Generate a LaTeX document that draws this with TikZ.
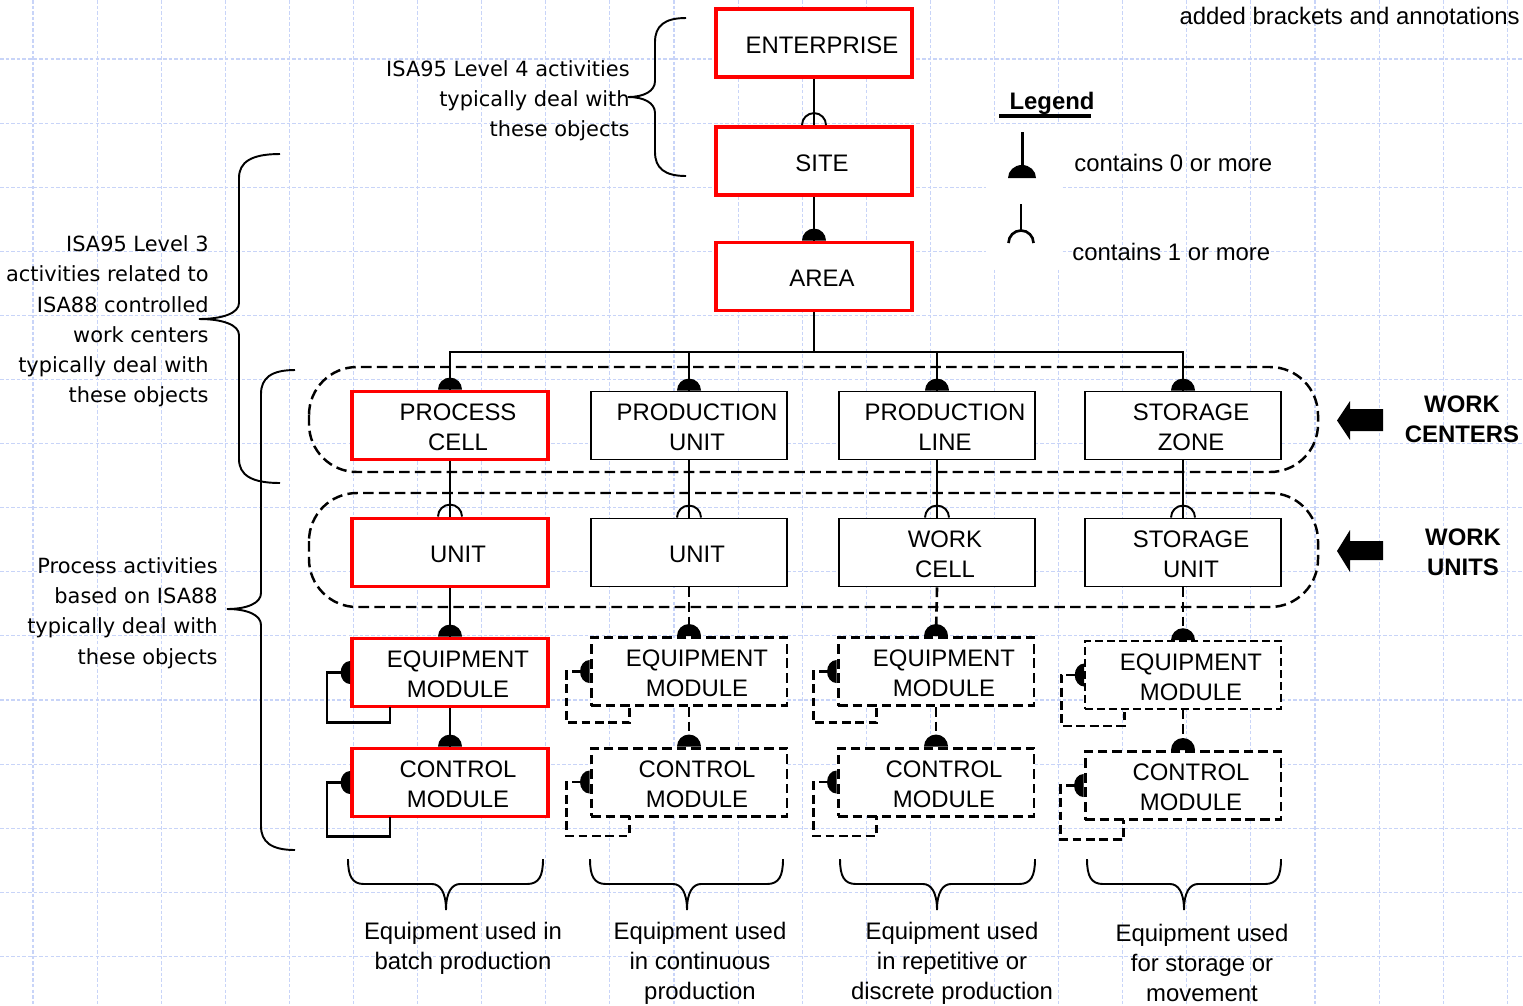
\documentclass[tikz,border=0pt]{standalone}
\usepackage{fontspec}
\setmainfont{Liberation Sans}
\newfontfamily\annotfont{DejaVu Sans}
\definecolor{gridblue}{RGB}{200,212,248}

% "zero or more" marker: filled half disc sitting on a box edge
\newcommand\ManyMark[1]{\fill[shift={(#1)}] (-12,0) arc[start angle=180,end angle=360,radius=12] -- cycle;}
% "one or more" marker: open half circle
\newcommand\OneMark[1]{\draw[link,shift={(#1)}] (-12,0) arc[start angle=180,end angle=360,radius=12];}
% filled half disc on the left side of a box (recursive containment)
\newcommand\SideMark[1]{\fill[shift={(#1)}] (0,11.5) arc[start angle=90,end angle=270,x radius=9.5,y radius=11.5] -- cycle;}
% recursive loop from the left side back to the bottom of the same box
\newcommand\SelfLoop[3]{\draw[#1,shift={(#2.west)}] (-9,0) -| (-23,#3) -| (40,34);}
% curly bracket opening to the right, tip pointing left
\newcommand\LeftBrace[6]{%
  \draw[curly] (#1,#4) .. controls ({#2+0.3*(#1-#2)},#4) and (#2,{#4+8}) .. (#2,{#4+24})
    -- (#2,{#5-16}) .. controls (#2,{#5-6}) and ({#2-0.4*(#2-#3)},#5) .. (#3,#5)
    .. controls ({#2-0.4*(#2-#3)},#5) and (#2,{#5+6}) .. (#2,{#5+16})
    -- (#2,{#6-24}) .. controls (#2,{#6-8}) and ({#2+0.3*(#1-#2)},#6) .. (#1,#6);}
% curly bracket opening upwards, tip pointing down
\newcommand\DownBrace[3]{%
  \draw[curly] (#1,859) .. controls (#1,876) and ({#1+4},884) .. ({#1+16},884)
    -- ({#2-14},884) .. controls ({#2-6},884) and (#2,892) .. (#2,910)
    .. controls (#2,892) and ({#2+6},884) .. ({#2+14},884)
    -- ({#3-16},884) .. controls ({#3-4},884) and (#3,876) .. (#3,859);}

\begin{document}
\begin{tikzpicture}[x=0.02cm,y=-0.02cm,
  every node/.style={font=\fontsize{13.6}{17}\selectfont, inner sep=0pt},
  box/.style={rectangle, minimum width=3.92cm, minimum height=1.36cm, fill=white},
  redbox/.style={box, draw=red, line width=2.2pt},
  plainbox/.style={box, draw=black, line width=1.1pt},
  dashbox/.style={box, draw=black, line width=1.7pt, dash pattern=on 5.5pt off 2.8pt},
  thindashbox/.style={box, draw=black, line width=0.9pt, dash pattern=on 4.5pt off 2.3pt},
  boxtext/.style={align=center, xshift=0.16cm, yshift=-0.04cm},
  link/.style={line width=1.1pt},
  dlink/.style={line width=1.5pt, dash pattern=on 5.5pt off 2.8pt},
  loopline/.style={line width=1.4pt},
  dloop/.style={line width=1.6pt, dash pattern=on 5pt off 2.6pt},
  group/.style={line width=1.4pt, dash pattern=on 6pt off 3pt, rounded corners=0.96cm},
  curly/.style={line width=1.1pt},
  annot/.style={font=\annotfont\fontsize{11.9}{17.2}\selectfont, align=right},
  caption/.style={align=center},
  boldtext/.style={font=\fontsize{13.6}{17}\selectfont\bfseries, align=center},
  gridline/.style={draw=gridblue, line width=0.6pt, dash pattern=on 2pt off 1.2pt}]

\useasboundingbox (0,0) rectangle (1523,1005);
\fill[white] (0,0) rectangle (1523,1005);

% background grid
\foreach \k in {0,...,23} \draw[gridline] ({33+64.1*\k},0) -- ({33+64.1*\k},1005);
\foreach \k in {0,...,15} \draw[gridline] (0,{-5.1+64.1*\k}) -- (1523,{-5.1+64.1*\k});

% legend area
\fill[white] (986,124) rectangle (1062,268);
\node[boldtext] (legend) at (1052,103) {Legend};
\draw[line width=2.2pt] (999,116) -- (1091,116);
\draw[line width=1.7pt] (1022,132) -- (1022,178);
\fill (1008,178) arc[start angle=180,end angle=360,x radius=14,y radius=13] -- cycle;
\draw[line width=1.5pt] (1021,204) -- (1021,231);
\draw[line width=1.5pt] (1008.5,243) arc[start angle=180,end angle=360,radius=12.5];
\node[anchor=west] (zeromore) at (1074,163) {contains 0 or more};
\node[anchor=west] (onemore) at (1072,252) {contains 1 or more};

\node[anchor=east] (note) at (1520,16) {added brackets and annotations};

% dashed groupings
\draw[group] (309,367) rectangle (1318,472);
\draw[group] (309,493) rectangle (1318,607);

% enterprise / site / area
\node[redbox, label={[boxtext]center:ENTERPRISE}] (ent) at (814,43) {};
\node[redbox, label={[boxtext]center:SITE}] (site) at (814,161) {};
\node[redbox, label={[boxtext]center:AREA}] (area) at (814,276.5) {};

% work centers
\node[redbox, label={[boxtext]center:PROCESS\\CELL}] (wc1) at (450,425.5) {};
\node[plainbox, label={[boxtext]center:PRODUCTION\\UNIT}] (wc2) at (689,425.5) {};
\node[plainbox, label={[boxtext]center:PRODUCTION\\LINE}] (wc3) at (937,425.5) {};
\node[plainbox, label={[boxtext]center:STORAGE\\ZONE}] (wc4) at (1183,425.5) {};

% work units
\node[redbox, label={[boxtext]center:UNIT}] (u1) at (450,552.5) {};
\node[plainbox, label={[boxtext]center:UNIT}] (u2) at (689,552.5) {};
\node[plainbox, label={[boxtext]center:WORK\\CELL}] (u3) at (937,552.5) {};
\node[plainbox, label={[boxtext]center:STORAGE\\UNIT}] (u4) at (1183,552.5) {};

% equipment modules
\node[redbox, label={[boxtext]center:EQUIPMENT\\MODULE}] (em1) at (450,672.5) {};
\node[dashbox, label={[boxtext]center:EQUIPMENT\\MODULE}] (em2) at (689,671.5) {};
\node[dashbox, label={[boxtext]center:EQUIPMENT\\MODULE}] (em3) at (936,671.5) {};
\node[thindashbox, label={[boxtext]center:EQUIPMENT\\MODULE}] (em4) at (1183,675) {};

% control modules
\node[redbox, label={[boxtext]center:CONTROL\\MODULE}] (cm1) at (450,782.5) {};
\node[dashbox, label={[boxtext]center:CONTROL\\MODULE}] (cm2) at (689,782) {};
\node[dashbox, label={[boxtext]center:CONTROL\\MODULE}] (cm3) at (936,782) {};
\node[dashbox, label={[boxtext]center:CONTROL\\MODULE}] (cm4) at (1183,785.5) {};

% containment links
\draw[link] (ent.south) -- (site.north);
\OneMark{site.north}
\draw[link] (site.south) -- (area.north);
\ManyMark{area.north}

\coordinate (bus) at (814,352);
\foreach \c in {1,2,3,4} {
  \draw[link] (area.south) -- (area.south |- bus) -| (wc\c.north);
  \ManyMark{wc\c.north}
  \draw[link] (wc\c.south) -- (u\c.north);
  \OneMark{u\c.north}
}

\draw[link] (u1.south) -- (em1.north);
\draw[link] (em1.south) -- (cm1.north);
\foreach \c in {2,3,4} {
  \draw[dlink] (u\c.south) -- (em\c.north);
  \draw[dlink] (em\c.south) -- (cm\c.north);
}
\foreach \c in {1,2,3,4} {
  \ManyMark{em\c.north}
  \ManyMark{cm\c.north}
}

% recursive containment loops
\SelfLoop{loopline}{em1}{50}
\SelfLoop{loopline}{cm1}{54}
\foreach \c in {2,3,4} {
  \SelfLoop{dloop}{em\c}{51}
  \SelfLoop{dloop}{cm\c}{54}
}
\foreach \c in {1,2,3,4} {
  \SideMark{em\c.west}
  \SideMark{cm\c.west}
}

% work center / work unit pointers
\fill (1337,420.5) -- (1350,401) -- (1350,409) -- (1383,409) -- (1383,431) -- (1350,431) -- (1350,440) -- cycle;
\fill (1337,551) -- (1350,530) -- (1350,541) -- (1383,541) -- (1383,560) -- (1350,560) -- (1350,572) -- cycle;
\node[boldtext] (wclabel) at (1462,419) {WORK\\CENTERS};
\node[boldtext] (wulabel) at (1463,552) {WORK\\UNITS};

% left annotations with brackets
\LeftBrace{686}{655}{628}{18}{97}{176}
\LeftBrace{280}{239}{199}{154}{319}{483}
\LeftBrace{295}{261}{227}{370}{609}{850}
\node[annot, anchor=east] (lvl4) at (630,100.5) {ISA95 Level 4 activities\\typically deal with\\these objects};
\node[annot, anchor=east] (lvl3) at (209,321.5) {ISA95 Level 3\\activities related to\\ISA88 controlled\\work centers\\typically deal with\\these objects};
\node[annot, anchor=east] (proc) at (218,613) {Process activities\\based on ISA88\\typically deal with\\these objects};

% bottom brackets with captions
\DownBrace{348}{446}{543}
\DownBrace{590}{687}{783}
\DownBrace{840}{937}{1035}
\DownBrace{1087}{1184}{1281}
\node[caption] (cap1) at (463,948.5) {Equipment used in\\batch production};
\node[caption] (cap2) at (700,963) {Equipment used\\in continuous\\production};
\node[caption] (cap3) at (952,963) {Equipment used\\in repetitive or\\discrete production};
\node[caption] (cap4) at (1202,963) {Equipment used\\for storage or\\movement};

\end{tikzpicture}
\end{document}
